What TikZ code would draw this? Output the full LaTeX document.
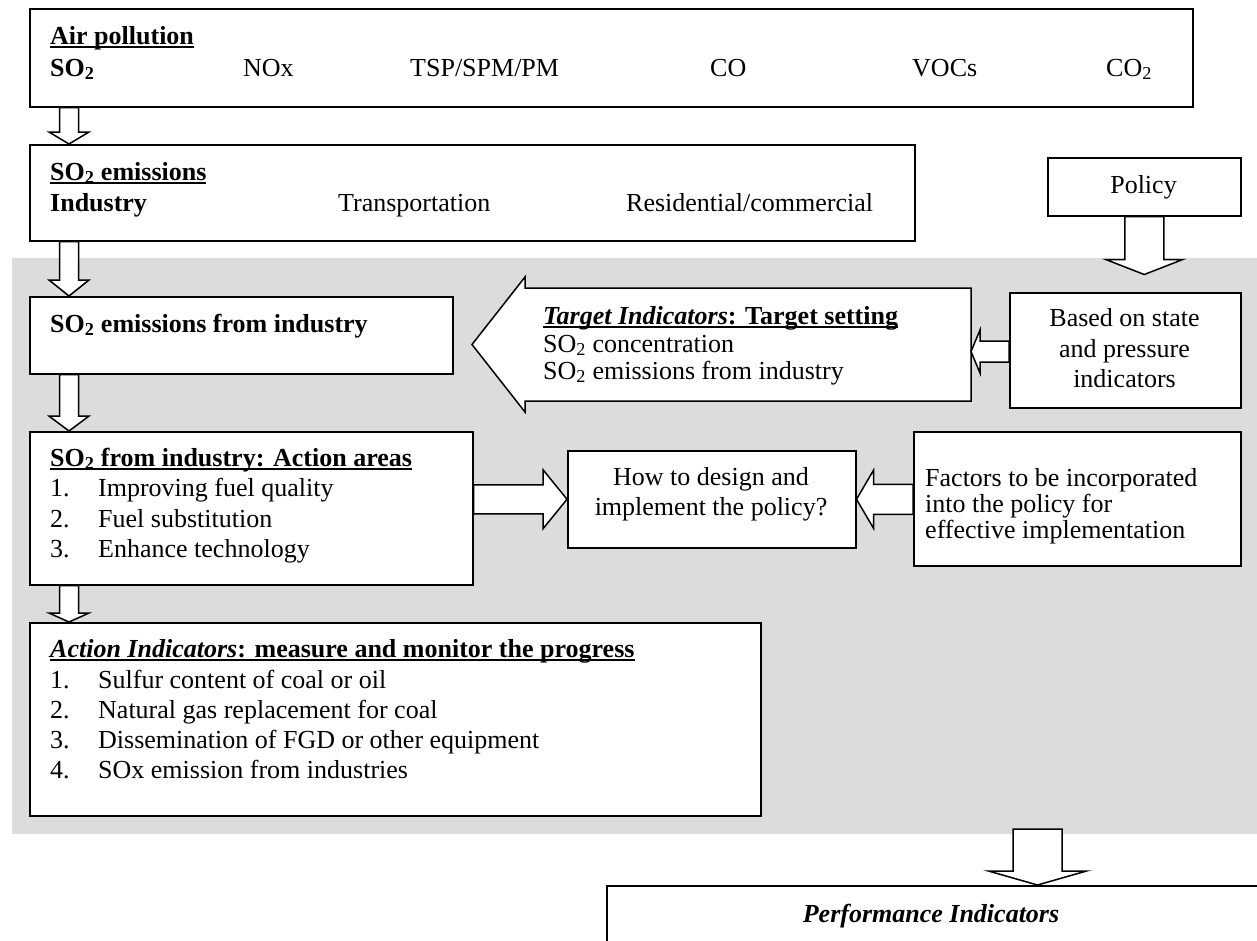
\documentclass[tikz,border=0pt]{standalone}
\usepackage{fontspec}
\setmainfont{Liberation Serif}
\usetikzlibrary{calc}
\definecolor{panel}{RGB}{220,220,220}
% thick underline for headings
\newcommand{\ulbar}[1]{\setbox0\hbox{#1}\rlap{\rule[-4pt]{\wd0}{2pt}}\box0}
% text lines placed on their baseline
\newcommand{\txtL}[4]{\node[lbl,anchor=base west] (#1) at (#2,#3) {#4};}
\newcommand{\txtC}[4]{\node[lbl,anchor=base] (#1) at (#2,#3) {#4};}
% block arrows: {from}{tip}{shaft half width}{head half width}{head length}
\newcommand{\downblock}[5]{\draw[blk] let \p1=(#1), \p2=(#2) in
  (\x2-#3pt,\y1) -- (\x2-#3pt,\y2+#5pt) -- (\x2-#4pt,\y2+#5pt) -- (\x2,\y2)
  -- (\x2+#4pt,\y2+#5pt) -- (\x2+#3pt,\y2+#5pt) -- (\x2+#3pt,\y1) -- cycle;}
\newcommand{\rightblock}[5]{\draw[blk] let \p1=(#1), \p2=(#2) in
  (\x1,\y2+#3pt) -- (\x2-#5pt,\y2+#3pt) -- (\x2-#5pt,\y2+#4pt) -- (\x2,\y2)
  -- (\x2-#5pt,\y2-#4pt) -- (\x2-#5pt,\y2-#3pt) -- (\x1,\y2-#3pt) -- cycle;}
\newcommand{\leftblock}[5]{\draw[blk] let \p1=(#1), \p2=(#2) in
  (\x1,\y2+#3pt) -- (\x2+#5pt,\y2+#3pt) -- (\x2+#5pt,\y2+#4pt) -- (\x2,\y2)
  -- (\x2+#5pt,\y2-#4pt) -- (\x2+#5pt,\y2-#3pt) -- (\x1,\y2-#3pt) -- cycle;}

\begin{document}
\begin{tikzpicture}[x=1pt,y=-1pt,
  box/.style={draw,line width=1.5pt,fill=white,rectangle,inner sep=0pt,anchor=north west},
  blk/.style={draw,fill=white,line width=1.5pt,line join=miter},
  lbl/.style={inner sep=0pt,font=\fontsize{26}{30}\selectfont}]
\path[use as bounding box] (0,0) rectangle (1257,940);
\clip (0,0) rectangle (1257,940);
\fill[white] (0,0) rectangle (1257,940);

% shaded policy panel
\node[fill=panel,rectangle,inner sep=0pt,anchor=north west,minimum width=1260pt,minimum height=576pt] (bg) at (12,258) {};

% boxes
\node[box,minimum width=1163pt,minimum height=98pt] (air) at (29,8) {};
\node[box,minimum width=885pt,minimum height=96pt] (emis) at (29,144) {};
\node[box,minimum width=423pt,minimum height=77pt] (from) at (29,296) {};
\node[box,minimum width=443pt,minimum height=153pt] (areas) at (29,431) {};
\node[box,minimum width=731pt,minimum height=193pt] (actind) at (29,622) {};
\node[box,minimum width=193pt,minimum height=58pt] (pol) at (1047,157) {};
\node[box,minimum width=231pt,minimum height=115pt] (base) at (1009,292) {};
\node[box,minimum width=288pt,minimum height=97pt] (how) at (567,450) {};
\node[box,minimum width=327pt,minimum height=134pt] (fac) at (913,431) {};
\node[box,minimum width=720pt,minimum height=120pt] (perf) at (606,885) {};

% target-setting arrow
\draw[blk] (525,288) -- (971,288) -- (971,401) -- (525,401) -- (525,412)
  -- (472,344.5) -- (525,277) -- cycle;
\coordinate (tgtE) at (971,351.5);
\coordinate (bgbot) at (1037.5,829);

% connectors
\downblock{$(air.south west)+(40,0)$}{$(emis.north west)+(40,0)$}{9.5}{20}{12}
\downblock{$(emis.south west)+(40,0)$}{$(from.north west)+(40,0)$}{9.5}{20}{16}
\downblock{$(from.south west)+(40,0)$}{$(areas.north west)+(40,0)$}{9.5}{20}{15}
\downblock{$(areas.south west)+(40,0)$}{$(actind.north west)+(40,0)$}{9.5}{20}{9}
\downblock{pol.south}{$(pol.south)+(0,58)$}{19.5}{38.5}{15}
\downblock{bgbot}{$(perf.north west)+(431.5,0)$}{24.5}{49}{14}
\leftblock{base.west}{tgtE}{10.5}{21.5}{9}
\rightblock{areas.east}{how.west}{14.5}{29.5}{24}
\leftblock{fac.west}{how.east}{15}{29}{17}

% air pollution
\txtL{tAir}{50}{44}{\textbf{\ulbar{Air pollution}}}
\txtL{tSOa}{50}{76}{\textbf{SO\textsubscript{2}}}
\txtL{tNOx}{243}{76}{NOx}
\txtL{tTSP}{410}{76}{TSP/SPM/PM}
\txtL{tCO}{710}{76}{CO}
\txtL{tVOC}{912}{76}{VOCs}
\txtL{tCOb}{1106}{76}{CO\textsubscript{2}}

% emissions by sector
\txtL{tEmis}{50}{180}{\textbf{\ulbar{SO\textsubscript{2} emissions}}}
\txtL{tInd}{50}{211}{\textbf{Industry}}
\txtL{tTrans}{338}{211}{Transportation}
\txtL{tRes}{626}{211}{Residential/commercial}

\txtL{tFrom}{50}{332}{\textbf{SO\textsubscript{2} emissions from industry}}

% action areas
\txtL{tAreas}{50}{466}{\textbf{\ulbar{SO\textsubscript{2} from industry: Action areas}}}
\txtL{tAn1}{50}{496}{1.}
\txtL{tA1}{98}{496}{Improving fuel quality}
\txtL{tAn2}{50}{527}{2.}
\txtL{tA2}{98}{527}{Fuel substitution}
\txtL{tAn3}{50}{557}{3.}
\txtL{tA3}{98}{557}{Enhance technology}

% action indicators
\txtL{tActI}{50}{657}{\textbf{\ulbar{\textit{Action Indicators}: measure and monitor the progress}}}
\txtL{tIn1}{50}{688}{1.}
\txtL{tI1}{98}{688}{Sulfur content of coal or oil}
\txtL{tIn2}{50}{718}{2.}
\txtL{tI2}{98}{718}{Natural gas replacement for coal}
\txtL{tIn3}{50}{748}{3.}
\txtL{tI3}{98}{748}{Dissemination of FGD or other equipment}
\txtL{tIn4}{50}{778}{4.}
\txtL{tI4}{98}{778}{SOx emission from industries}

% target indicators
\txtL{tTgt}{543}{324}{\textbf{\ulbar{\textit{Target Indicators}: Target setting}}}
\txtL{tTg1}{543}{352}{SO\textsubscript{2} concentration}
\txtL{tTg2}{543}{379}{SO\textsubscript{2} emissions from industry}

% policy side
\txtC{tPol}{1143.5}{193}{Policy}
\txtC{tB1}{1124.5}{326}{Based on state}
\txtC{tB2}{1124.5}{357}{and pressure}
\txtC{tB3}{1124.5}{387}{indicators}
\txtC{tH1}{711}{485}{How to design and}
\txtC{tH2}{711}{515}{implement the policy?}
\txtL{tF1}{925}{486}{Factors to be incorporated}
\txtL{tF2}{925}{512}{into the policy for}
\txtL{tF3}{925}{538}{effective implementation}

\txtC{tPerf}{931}{922}{\textbf{\textit{Performance Indicators}}}
\end{tikzpicture}
\end{document}
